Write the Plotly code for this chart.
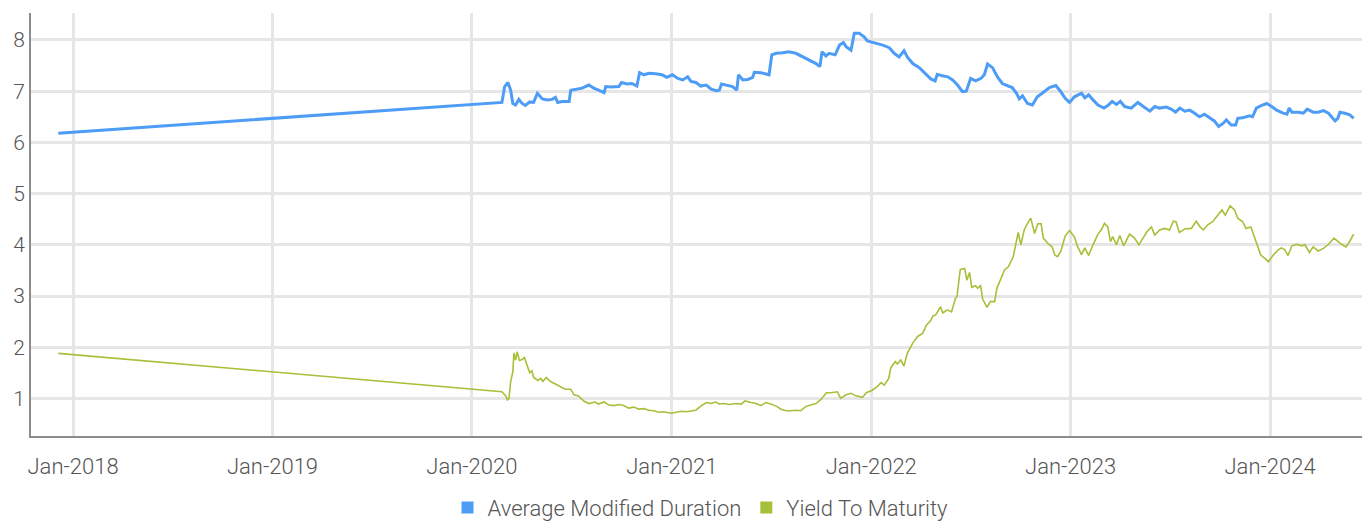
import plotly.graph_objects as go

# Average Modified Duration
dur_dates = [
    "2017-12-05", "2020-02-25", "2020-03-01", "2020-03-07", "2020-03-12", "2020-03-16", "2020-03-21",
    "2020-03-27", "2020-04-02", "2020-04-08", "2020-04-16", "2020-04-23", "2020-04-30", "2020-05-09",
    "2020-05-18", "2020-05-27", "2020-06-02", "2020-06-06", "2020-06-14", "2020-06-27", "2020-06-30",
    "2020-07-09", "2020-07-21", "2020-08-02", "2020-08-11", "2020-08-20", "2020-08-30", "2020-09-02",
    "2020-09-11", "2020-09-26", "2020-10-01", "2020-10-11", "2020-10-20", "2020-10-29", "2020-11-03",
    "2020-11-11", "2020-11-20", "2020-12-02", "2020-12-14", "2020-12-23", "2021-01-02", "2021-01-12",
    "2021-01-21", "2021-01-30", "2021-02-05", "2021-02-14", "2021-02-23", "2021-03-05", "2021-03-14",
    "2021-03-23", "2021-03-29", "2021-04-02", "2021-04-13", "2021-04-22", "2021-04-30", "2021-05-03",
    "2021-05-11", "2021-05-20", "2021-05-29", "2021-06-01", "2021-06-13", "2021-06-22", "2021-06-28",
    "2021-07-03", "2021-07-11", "2021-07-23", "2021-08-03", "2021-08-16", "2021-08-29", "2021-09-10",
    "2021-09-22", "2021-09-29", "2021-10-03", "2021-10-10", "2021-10-16", "2021-10-27", "2021-11-04",
    "2021-11-11", "2021-11-16", "2021-11-25", "2021-12-01", "2021-12-10", "2021-12-19", "2021-12-25",
    "2022-01-10", "2022-01-22", "2022-02-03", "2022-02-12", "2022-02-21", "2022-03-02", "2022-03-08",
    "2022-03-18", "2022-03-30", "2022-04-11", "2022-04-20", "2022-04-28", "2022-05-02", "2022-05-11",
    "2022-05-21", "2022-05-30", "2022-06-08", "2022-06-17", "2022-06-24", "2022-07-02", "2022-07-11",
    "2022-07-21", "2022-07-27", "2022-08-02", "2022-08-11", "2022-08-20", "2022-08-29", "2022-09-07",
    "2022-09-16", "2022-09-24", "2022-09-29", "2022-10-05", "2022-10-14", "2022-10-23", "2022-11-01",
    "2022-11-10", "2022-11-23", "2022-12-05", "2022-12-14", "2022-12-22", "2022-12-30", "2023-01-08",
    "2023-01-21", "2023-01-27", "2023-02-03", "2023-02-11", "2023-02-20", "2023-03-03", "2023-03-10",
    "2023-03-18", "2023-03-26", "2023-04-02", "2023-04-10", "2023-04-22", "2023-05-04", "2023-05-14",
    "2023-05-26", "2023-06-04", "2023-06-13", "2023-06-25", "2023-07-04", "2023-07-12", "2023-07-20",
    "2023-07-29", "2023-08-07", "2023-08-16", "2023-08-25", "2023-09-03", "2023-09-12", "2023-09-21",
    "2023-09-29", "2023-10-07", "2023-10-13", "2023-10-22", "2023-10-30", "2023-11-03", "2023-11-12",
    "2023-11-24", "2023-11-30", "2023-12-07", "2023-12-16", "2023-12-26", "2024-01-04", "2024-01-13",
    "2024-01-25", "2024-02-01", "2024-02-05", "2024-02-10", "2024-02-22", "2024-03-02", "2024-03-09",
    "2024-03-20", "2024-03-29", "2024-04-08", "2024-04-17", "2024-04-23", "2024-04-29", "2024-05-04",
    "2024-05-08", "2024-05-17", "2024-05-26", "2024-06-02",
]
dur_values = [
    6.18, 6.78, 7.09, 7.17, 7.02, 6.76, 6.73,
    6.84, 6.76, 6.72, 6.79, 6.78, 6.96, 6.85,
    6.83, 6.84, 6.88, 6.78, 6.80, 6.80, 7.02,
    7.04, 7.06, 7.12, 7.06, 7.02, 6.97, 7.09,
    7.08, 7.09, 7.17, 7.14, 7.15, 7.10, 7.36,
    7.32, 7.35, 7.34, 7.32, 7.27, 7.32, 7.25,
    7.22, 7.28, 7.19, 7.17, 7.10, 7.12, 7.04,
    7.01, 7.02, 7.14, 7.12, 7.09, 7.02, 7.32,
    7.22, 7.23, 7.27, 7.37, 7.36, 7.33, 7.32,
    7.71, 7.74, 7.75, 7.77, 7.74, 7.67, 7.59,
    7.54, 7.48, 7.77, 7.69, 7.74, 7.71, 7.90,
    7.95, 7.87, 7.80, 8.13, 8.13, 8.06, 7.98,
    7.94, 7.90, 7.85, 7.74, 7.67, 7.79, 7.67,
    7.54, 7.46, 7.33, 7.24, 7.20, 7.33, 7.30,
    7.28, 7.22, 7.12, 6.99, 7.00, 7.25, 7.20,
    7.25, 7.32, 7.53, 7.46, 7.28, 7.15, 7.11,
    7.07, 6.96, 6.85, 6.91, 6.76, 6.73, 6.89,
    6.96, 7.07, 7.11, 6.99, 6.86, 6.78, 6.89,
    6.96, 6.87, 6.93, 6.83, 6.73, 6.67, 6.72,
    6.80, 6.74, 6.80, 6.70, 6.67, 6.78, 6.70,
    6.61, 6.70, 6.67, 6.69, 6.65, 6.59, 6.67,
    6.61, 6.63, 6.57, 6.50, 6.55, 6.48, 6.42,
    6.31, 6.37, 6.44, 6.34, 6.34, 6.47, 6.48,
    6.52, 6.50, 6.67, 6.72, 6.76, 6.70, 6.63,
    6.57, 6.55, 6.67, 6.59, 6.59, 6.57, 6.65,
    6.59, 6.59, 6.62, 6.57, 6.50, 6.42, 6.47,
    6.59, 6.57, 6.54, 6.47,
]

# Yield To Maturity
ytm_dates = [
    "2017-12-05", "2020-02-25", "2020-03-03", "2020-03-06", "2020-03-09", "2020-03-12", "2020-03-16",
    "2020-03-18", "2020-03-21", "2020-03-24", "2020-03-28", "2020-04-02", "2020-04-06", "2020-04-11",
    "2020-04-16", "2020-04-20", "2020-04-23", "2020-05-01", "2020-05-06", "2020-05-10", "2020-05-16",
    "2020-05-24", "2020-06-02", "2020-06-11", "2020-06-20", "2020-06-30", "2020-07-06", "2020-07-14",
    "2020-07-24", "2020-08-02", "2020-08-13", "2020-08-20", "2020-08-30", "2020-09-08", "2020-09-17",
    "2020-09-26", "2020-10-05", "2020-10-14", "2020-10-23", "2020-11-02", "2020-11-11", "2020-11-20",
    "2020-11-29", "2020-12-08", "2020-12-17", "2020-12-31", "2021-01-09", "2021-01-18", "2021-01-27",
    "2021-02-05", "2021-02-14", "2021-02-23", "2021-03-05", "2021-03-14", "2021-03-22", "2021-03-29",
    "2021-04-07", "2021-04-16", "2021-04-28", "2021-05-08", "2021-05-15", "2021-05-26", "2021-06-04",
    "2021-06-13", "2021-06-22", "2021-07-01", "2021-07-11", "2021-07-20", "2021-07-29", "2021-08-07",
    "2021-08-16", "2021-08-25", "2021-09-03", "2021-09-12", "2021-09-22", "2021-10-01", "2021-10-11",
    "2021-10-19", "2021-10-31", "2021-11-06", "2021-11-16", "2021-11-25", "2021-12-04", "2021-12-16",
    "2021-12-23", "2022-01-03", "2022-01-13", "2022-01-19", "2022-01-25", "2022-02-02", "2022-02-06",
    "2022-02-14", "2022-02-18", "2022-02-24", "2022-03-02", "2022-03-08", "2022-03-18", "2022-03-27",
    "2022-04-05", "2022-04-12", "2022-04-20", "2022-04-24", "2022-04-29", "2022-05-08", "2022-05-12",
    "2022-05-20", "2022-05-28", "2022-06-04", "2022-06-07", "2022-06-13", "2022-06-21", "2022-06-25",
    "2022-06-30", "2022-07-04", "2022-07-11", "2022-07-15", "2022-07-20", "2022-07-24", "2022-08-01",
    "2022-08-07", "2022-08-15", "2022-08-19", "2022-08-25", "2022-09-02", "2022-09-09", "2022-09-18",
    "2022-09-23", "2022-09-27", "2022-10-02", "2022-10-08", "2022-10-14", "2022-10-20", "2022-10-27",
    "2022-11-02", "2022-11-08", "2022-11-12", "2022-11-21", "2022-11-28", "2022-12-03", "2022-12-08",
    "2022-12-14", "2022-12-22", "2022-12-30", "2023-01-08", "2023-01-14", "2023-01-21", "2023-01-27",
    "2023-02-03", "2023-02-11", "2023-02-20", "2023-02-26", "2023-03-04", "2023-03-10", "2023-03-15",
    "2023-03-19", "2023-03-26", "2023-04-01", "2023-04-08", "2023-04-19", "2023-04-28", "2023-05-06",
    "2023-05-13", "2023-05-21", "2023-05-29", "2023-06-04", "2023-06-13", "2023-06-22", "2023-07-01",
    "2023-07-08", "2023-07-13", "2023-07-19", "2023-07-29", "2023-08-10", "2023-08-19", "2023-08-26",
    "2023-09-01", "2023-09-09", "2023-09-18", "2023-09-27", "2023-10-05", "2023-10-11", "2023-10-20",
    "2023-10-28", "2023-11-03", "2023-11-12", "2023-11-18", "2023-11-27", "2023-12-03", "2023-12-09",
    "2023-12-15", "2023-12-21", "2023-12-29", "2024-01-07", "2024-01-16", "2024-01-22", "2024-01-28",
    "2024-02-03", "2024-02-10", "2024-02-19", "2024-02-28", "2024-03-05", "2024-03-13", "2024-03-20",
    "2024-03-29", "2024-04-08", "2024-04-17", "2024-04-27", "2024-05-05", "2024-05-11", "2024-05-19",
    "2024-05-26", "2024-06-02",
]
ytm_values = [
    1.88, 1.13, 1.05, 0.97, 1.00, 1.33, 1.52,
    1.89, 1.75, 1.91, 1.74, 1.76, 1.80, 1.65,
    1.50, 1.54, 1.41, 1.35, 1.39, 1.33, 1.41,
    1.33, 1.28, 1.23, 1.18, 1.18, 1.07, 1.05,
    0.95, 0.90, 0.93, 0.89, 0.93, 0.87, 0.86,
    0.88, 0.86, 0.81, 0.83, 0.79, 0.80, 0.77,
    0.76, 0.73, 0.74, 0.71, 0.73, 0.75, 0.74,
    0.75, 0.77, 0.85, 0.92, 0.90, 0.93, 0.89,
    0.90, 0.88, 0.90, 0.89, 0.95, 0.92, 0.90,
    0.86, 0.92, 0.89, 0.85, 0.79, 0.76, 0.76,
    0.77, 0.76, 0.84, 0.87, 0.90, 0.98, 1.11,
    1.11, 1.13, 1.00, 1.07, 1.10, 1.05, 1.02,
    1.11, 1.16, 1.24, 1.31, 1.26, 1.39, 1.60,
    1.72, 1.67, 1.75, 1.63, 1.88, 2.08, 2.21,
    2.27, 2.43, 2.52, 2.61, 2.63, 2.79, 2.67,
    2.73, 2.69, 2.95, 2.99, 3.52, 3.54, 3.31,
    3.46, 3.17, 3.20, 3.15, 3.21, 2.94, 2.78,
    2.89, 2.89, 3.15, 3.31, 3.51, 3.57, 3.77,
    4.03, 4.24, 4.00, 4.29, 4.42, 4.52, 4.22,
    4.41, 4.41, 4.13, 4.02, 3.96, 3.80, 3.77,
    3.87, 4.17, 4.28, 4.15, 3.96, 3.81, 3.94,
    3.79, 4.00, 4.21, 4.29, 4.42, 4.35, 4.06,
    4.16, 4.00, 4.18, 3.98, 4.21, 4.13, 4.00,
    4.11, 4.26, 4.35, 4.19, 4.29, 4.32, 4.29,
    4.46, 4.45, 4.24, 4.31, 4.32, 4.46, 4.35,
    4.29, 4.39, 4.45, 4.57, 4.68, 4.58, 4.76,
    4.68, 4.52, 4.45, 4.32, 4.35, 4.16, 4.00,
    3.80, 3.75, 3.67, 3.80, 3.90, 3.94, 3.90,
    3.79, 3.98, 4.01, 3.98, 4.00, 3.85, 3.96,
    3.88, 3.93, 4.01, 4.13, 4.06, 4.01, 3.96,
    4.07, 4.21,
]

series_names = ["Average Modified Duration", "Yield To Maturity"]
tick_dates = ["2018-01-01", "2019-01-01", "2020-01-01", "2021-01-01", "2022-01-01", "2023-01-01", "2024-01-01"]
tick_labels = ["Jan-2018", "Jan-2019", "Jan-2020", "Jan-2021", "Jan-2022", "Jan-2023", "Jan-2024"]
y_ticks = [1, 2, 3, 4, 5, 6, 7, 8]

BLUE = "#4D9CF6"
GREEN = "#A6C03A"
TEXT = "#555555"
FONT = "Roboto, sans-serif"

fig = go.Figure()
fig.add_trace(go.Scatter(x=dur_dates, y=dur_values, mode="lines", name=series_names[0],
                         line=dict(color=BLUE, width=3), showlegend=False))
fig.add_trace(go.Scatter(x=ytm_dates, y=ytm_values, mode="lines", name=series_names[1],
                         line=dict(color=GREEN, width=1.6), showlegend=False))
# legend entries with square markers
fig.add_trace(go.Scatter(x=[None], y=[None], mode="markers", name=series_names[0],
                         marker=dict(symbol="square", color=BLUE, size=12)))
fig.add_trace(go.Scatter(x=[None], y=[None], mode="markers", name=series_names[1],
                         marker=dict(symbol="square", color=GREEN, size=12)))

fig.update_layout(
    width=1370, height=522,
    margin=dict(l=23, r=8, t=5, b=94, autoexpand=False),
    paper_bgcolor="white", plot_bgcolor="white",
    font=dict(family=FONT, size=22, color=TEXT, weight=300),
    showlegend=True,
    legend=dict(orientation="h", x=0.5, xanchor="center", y=-0.12, yanchor="top",
                font=dict(family=FONT, size=22, color=TEXT, weight=300),
                itemwidth=30, tracegroupgap=0, bgcolor="rgba(0,0,0,0)"),
    xaxis=dict(
        type="date", range=["2017-10-16", "2024-07-02"],
        tickvals=tick_dates, ticktext=tick_labels,
        showgrid=True, gridcolor="#E6E6E6", gridwidth=3,
        showline=True, linecolor="#8C8C8C", linewidth=2,
        ticks="", ticklabelstandoff=10, automargin=False,
        tickfont=dict(family=FONT, size=22, color=TEXT, weight=300),
        zeroline=False,
    ),
    yaxis=dict(
        range=[0.266, 8.527],
        tickvals=y_ticks,
        showgrid=True, gridcolor="#E6E6E6", gridwidth=3,
        showline=True, linecolor="#8C8C8C", linewidth=2,
        ticks="", ticklabelstandoff=0, automargin=False,
        tickfont=dict(family=FONT, size=21, color=TEXT, weight=300),
        zeroline=False,
    ),
)

fig.write_html("out.html")
